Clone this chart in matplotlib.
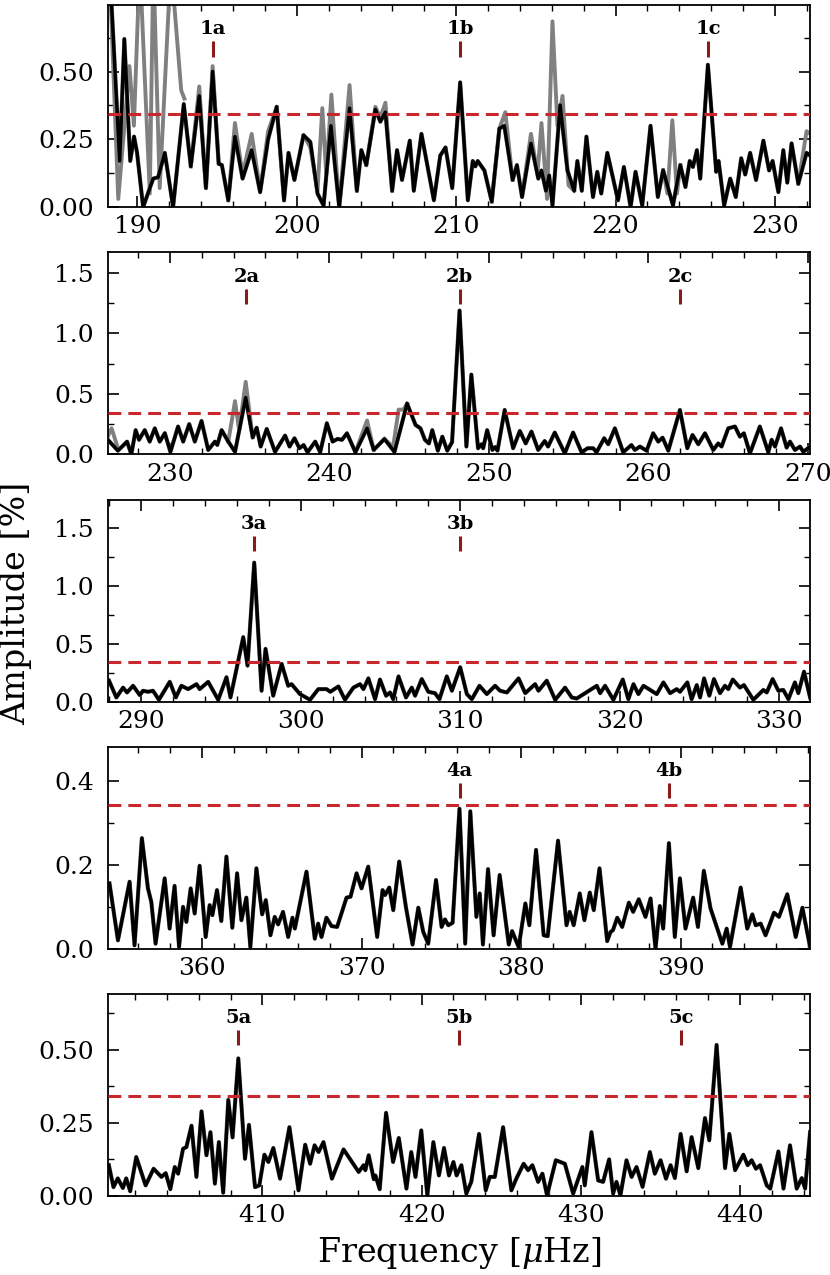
import numpy as np
import matplotlib
matplotlib.use('Agg')
import matplotlib.pyplot as plt
from matplotlib.ticker import MultipleLocator, FormatStrFormatter
import matplotlib.transforms as mtransforms

plt.rcParams['font.family'] = 'DejaVu Serif'
plt.rcParams['mathtext.fontset'] = 'dejavuserif'

# ---- panel 1 (black) ----
freq1 = [188.2, 188.89, 189.18, 189.55, 189.79, 189.98, 190.36, 190.99, 191.3, 191.72,
         192.24, 192.91, 193.35, 193.88, 194.3, 194.72, 195.1, 195.3, 195.7, 196.12,
         196.6, 197.17, 197.7, 198.2, 198.74, 199.2, 199.48, 199.85, 200.42, 200.85,
         201.3, 201.68, 202.14, 202.66, 203.31, 203.77, 204.05, 204.36, 204.93, 205.24,
         205.56, 205.98, 206.29, 206.6, 207.09, 207.34, 207.82, 208.6, 209.0, 209.33,
         209.75, 210.25, 210.73, 211.04, 211.2, 211.35, 211.77, 212.23, 212.71, 213.02,
         213.54, 213.81, 214.13, 214.69, 215.15, 215.35, 215.63, 215.83, 216.04, 216.52,
         216.98, 217.4, 217.6, 217.88, 218.17, 218.58, 218.85, 219.1, 219.48, 220.15,
         220.52, 220.94, 221.25, 221.67, 222.19, 222.65, 222.98, 223.6, 224.06, 224.38,
         224.65, 224.85, 225.1, 225.31, 225.79, 226.31, 226.46, 226.81, 227.19, 227.54,
         227.88, 228.13, 228.44, 228.81, 229.27, 229.63, 229.85, 230.21, 230.52, 230.77,
         231.04, 231.46, 231.98, 232.2]
amp1 = [0.95, 0.17, 0.62, 0.17, 0.26, 0.2, 0.0, 0.105, 0.11, 0.2,
        0.0, 0.38, 0.15, 0.41, 0.07, 0.5, 0.16, 0.155, 0.025, 0.26,
        0.105, 0.21, 0.055, 0.25, 0.37, 0.025, 0.2, 0.1, 0.265, 0.24,
        0.05, 0.006, 0.3, 0.0, 0.365, 0.06, 0.21, 0.155, 0.36, 0.315,
        0.35, 0.06, 0.21, 0.1, 0.245, 0.06, 0.27, 0.025, 0.19, 0.22,
        0.07, 0.46, 0.025, 0.17, 0.15, 0.17, 0.135, 0.02, 0.29, 0.3,
        0.1, 0.155, 0.037, 0.235, 0.105, 0.135, 0.06, 0.117, 0.006, 0.376,
        0.135, 0.06, 0.17, 0.06, 0.26, 0.037, 0.13, 0.05, 0.2, 0.025,
        0.148, 0.0, 0.13, 0.006, 0.3, 0.037, 0.136, 0.006, 0.155, 0.074,
        0.17, 0.148, 0.21, 0.105, 0.525, 0.13, 0.17, 0.006, 0.105, 0.037,
        0.18, 0.12, 0.2, 0.1, 0.245, 0.135, 0.17, 0.055, 0.21, 0.09,
        0.235, 0.086, 0.2, 0.19]

# panel 1 gray (where it departs from black)
gray1 = [
    ([188.2, 188.8, 189.5, 189.78, 190.15, 190.78, 191.0, 191.4, 192.1, 192.75, 192.95],
     [0.95, 0.03, 0.52, 0.3, 0.9, 0.05, 0.9, 0.07, 0.9, 0.43, 0.4]),
    ([193.35, 193.88, 194.3, 194.72, 195.1],
     [0.15, 0.445, 0.07, 0.52, 0.16]),
    ([195.7, 196.12, 196.6, 197.17, 197.7, 198.2, 198.74, 199.2],
     [0.025, 0.31, 0.12, 0.27, 0.06, 0.28, 0.37, 0.025]),
    ([200.42, 200.85, 201.3, 201.6, 201.85, 202.17, 202.66, 203.31, 203.77],
     [0.265, 0.22, 0.06, 0.365, 0.12, 0.415, 0.0, 0.45, 0.06]),
    ([204.36, 204.93, 205.24, 205.56, 205.98],
     [0.155, 0.37, 0.33, 0.385, 0.06]),
    ([212.23, 212.71, 213.08, 213.54],
     [0.02, 0.29, 0.35, 0.1]),
    ([214.13, 214.69, 215.1, 215.35, 215.7, 216.04, 216.35, 216.67, 217.05, 217.4],
     [0.04, 0.27, 0.12, 0.31, 0.03, 0.685, 0.3, 0.41, 0.08, 0.06]),
    ([222.98, 223.25, 223.56, 223.85, 224.06],
     [0.136, 0.05, 0.32, 0.05, 0.155]),
    ([231.46, 231.98, 232.2],
     [0.086, 0.28, 0.27]),
]

# ---- panel 2 ----
freq2 = [226.12, 226.75, 227.32, 227.59, 227.86, 228.07, 228.43, 228.74, 229.06, 229.37,
         229.69, 230.04, 230.52, 230.84, 231.22, 231.57, 231.99, 232.41, 232.83, 232.98,
         233.25, 233.67, 234.09, 234.76, 235.2, 235.45, 235.7, 236.08, 236.6, 237.23,
         237.51, 237.82, 238.13, 238.39, 238.64, 239.12, 239.43, 239.85, 240.21, 240.52,
         240.8, 241.11, 241.64, 242.37, 242.79, 243.46, 244.09, 244.88, 245.41, 245.72,
         246.0, 246.25, 246.46, 246.81, 247.09, 247.4, 247.7, 248.17, 248.6, 248.91,
         249.33, 249.54, 249.65, 249.9, 250.23, 250.4, 250.55, 251.0, 251.53, 251.95,
         252.32, 252.68, 253.1, 253.51, 253.72, 254.14, 254.77, 255.29, 255.82, 256.2,
         256.55, 256.76, 257.24, 257.49, 257.91, 258.43, 258.95, 259.16, 259.48, 259.9,
         260.31, 260.63, 260.9, 261.26, 261.99, 262.45, 262.78, 263.14, 263.56, 264.08,
         264.39, 264.6, 265.02, 265.44, 265.75, 266.0, 266.38, 267.0, 267.53, 267.74,
         267.95, 268.33, 268.68, 268.89, 269.2, 269.52, 269.73, 270.15]
amp2 = [0.12, 0.03, 0.105, 0.0, 0.2, 0.12, 0.2, 0.105, 0.215, 0.105,
        0.175, 0.02, 0.23, 0.105, 0.25, 0.105, 0.276, 0.036, 0.105, 0.077,
        0.2, 0.105, 0.02, 0.47, 0.14, 0.22, 0.064, 0.21, 0.02, 0.155,
        0.064, 0.133, 0.05, 0.077, 0.017, 0.105, 0.017, 0.257, 0.105, 0.127,
        0.12, 0.174, 0.017, 0.215, 0.036, 0.127, 0.02, 0.42, 0.243, 0.215,
        0.12, 0.09, 0.2, 0.03, 0.146, 0.03, 0.1, 1.19, 0.064, 0.66,
        0.05, 0.083, 0.05, 0.2, 0.036, 0.06, 0.03, 0.367, 0.05, 0.193,
        0.09, 0.188, 0.036, 0.11, 0.064, 0.18, 0.008, 0.18, 0.017, 0.05,
        0.05, 0.017, 0.133, 0.083, 0.215, 0.017, 0.077, 0.036, 0.064, 0.03,
        0.174, 0.105, 0.138, 0.03, 0.367, 0.05, 0.16, 0.083, 0.174, 0.036,
        0.09, 0.064, 0.215, 0.23, 0.146, 0.174, 0.008, 0.23, 0.017, 0.12,
        0.064, 0.215, 0.055, 0.105, 0.036, 0.064, 0.02, 0.064]

gray2 = [
    ([226.12, 226.35, 226.75], [0.15, 0.215, 0.05]),
    ([233.67, 234.09, 234.35, 234.76, 235.2], [0.105, 0.44, 0.2, 0.6, 0.14]),
    ([241.64, 242.37, 242.79], [0.017, 0.28, 0.036]),
    ([243.46, 244.0, 244.35, 244.65, 244.88], [0.127, 0.06, 0.37, 0.37, 0.42]),
]

# ---- panel 3 ----
freq3 = [287.97, 288.43, 288.85, 289.1, 289.48, 289.9, 290.1, 290.42, 290.73, 291.1,
         291.78, 292.16, 292.51, 292.93, 293.46, 293.66, 294.19, 294.82, 295.34, 295.59,
         295.86, 296.39, 296.66, 297.08, 297.54, 297.79, 298.27, 298.8, 299.21, 299.42,
         299.95, 300.58, 301.1, 301.62, 301.85, 302.36, 302.77, 303.3, 303.72, 303.93,
         304.24, 304.66, 304.97, 305.35, 305.6, 305.8, 306.13, 306.6, 306.96, 307.17,
         307.59, 308.0, 308.42, 308.7, 309.16, 309.48, 310.0, 310.42, 310.73, 311.21,
         311.67, 312.19, 312.5, 312.93, 313.66, 314.08, 314.7, 314.91, 315.43, 315.96,
         316.58, 317.0, 317.31, 318.57, 318.78, 319.09, 319.61, 320.2, 320.55, 320.87,
         321.18, 321.5, 321.92, 322.33, 322.75, 323.17, 323.58, 323.79, 324.25, 324.52,
         324.84, 325.05, 325.3, 325.63, 325.92, 326.3, 326.61, 326.82, 327.1, 327.55,
         327.8, 328.39, 329.02, 329.23, 329.6, 329.96, 330.27, 330.59, 331.0, 331.21,
         331.57, 331.95]
amp3 = [0.18, 0.035, 0.12, 0.078, 0.136, 0.055, 0.093, 0.084, 0.093, 0.015,
        0.17, 0.035, 0.136, 0.107, 0.15, 0.107, 0.17, 0.015, 0.21, 0.035,
        0.21, 0.556, 0.31, 1.2, 0.093, 0.455, 0.05, 0.325, 0.136, 0.15,
        0.064, 0.015, 0.107, 0.107, 0.084, 0.13, 0.015, 0.12, 0.15, 0.107,
        0.2, 0.02, 0.19, 0.05, 0.078, 0.02, 0.217, 0.035, 0.12, 0.05,
        0.194, 0.084, 0.072, 0.02, 0.217, 0.093, 0.296, 0.064, 0.02, 0.136,
        0.064, 0.136, 0.093, 0.078, 0.2, 0.072, 0.15, 0.093, 0.18, 0.015,
        0.12, 0.035, 0.026, 0.136, 0.072, 0.136, 0.015, 0.19, 0.02, 0.15,
        0.064, 0.136, 0.1, 0.064, 0.165, 0.072, 0.107, 0.084, 0.165, 0.02,
        0.142, 0.035, 0.2, 0.05, 0.194, 0.072, 0.136, 0.107, 0.19, 0.12,
        0.142, 0.015, 0.1, 0.078, 0.194, 0.093, 0.1, 0.02, 0.165, 0.072,
        0.258, 0.035]

# ---- panel 4 ----
freq4 = [354.2, 354.73, 355.46, 355.77, 356.23, 356.61, 356.82, 357.09, 357.66, 357.97,
         358.28, 358.56, 358.81, 359.02, 359.29, 359.54, 359.85, 360.23, 360.48, 360.65,
         360.94, 361.21, 361.53, 361.9, 362.2, 362.47, 362.78, 363.03, 363.41, 363.77,
         364.0, 364.29, 364.56, 364.77, 365.08, 365.4, 365.67, 365.82, 366.55, 367.07,
         367.28, 367.49, 367.8, 368.12, 368.47, 369.06, 369.31, 369.69, 370.0, 370.42,
         370.98, 371.32, 371.47, 371.74, 371.99, 372.36, 372.78, 373.2, 373.56, 373.87,
         374.18, 374.67, 375.02, 375.23, 375.44, 375.71, 376.14, 376.5, 376.82, 377.2,
         377.41, 377.61, 377.93, 378.28, 378.66, 379.23, 379.44, 379.85, 380.27, 380.52,
         380.94, 381.42, 381.67, 382.32, 382.85, 383.05, 383.3, 383.68, 383.97, 384.31,
         384.56, 384.92, 385.4, 385.61, 385.76, 386.03, 386.34, 386.76, 387.03, 387.38,
         387.8, 388.12, 388.43, 388.7, 388.91, 389.27, 389.64, 389.96, 390.31, 390.79,
         391.09, 391.46, 391.88, 392.62, 392.89, 393.1, 393.77, 394.18, 394.5, 394.71,
         395.02, 395.33, 395.86, 396.17, 396.69, 397.22, 397.64, 398.12]
amp4 = [0.156, 0.02, 0.16, 0.008, 0.264, 0.144, 0.112, 0.012, 0.168, 0.048,
        0.15, 0.004, 0.1, 0.064, 0.144, 0.084, 0.198, 0.028, 0.104, 0.08,
        0.14, 0.066, 0.22, 0.05, 0.18, 0.068, 0.122, 0.004, 0.192, 0.082,
        0.116, 0.032, 0.076, 0.058, 0.088, 0.028, 0.074, 0.048, 0.184, 0.024,
        0.06, 0.028, 0.074, 0.054, 0.052, 0.122, 0.124, 0.18, 0.144, 0.196,
        0.028, 0.14, 0.128, 0.146, 0.092, 0.208, 0.1, 0.01, 0.098, 0.04,
        0.012, 0.164, 0.052, 0.07, 0.056, 0.062, 0.334, 0.012, 0.328, 0.076,
        0.132, 0.01, 0.19, 0.032, 0.176, 0.01, 0.042, 0.004, 0.108, 0.056,
        0.236, 0.032, 0.03, 0.258, 0.056, 0.088, 0.056, 0.132, 0.068, 0.134,
        0.092, 0.192, 0.018, 0.04, 0.044, 0.074, 0.052, 0.11, 0.088, 0.118,
        0.076, 0.12, 0.0, 0.102, 0.048, 0.252, 0.028, 0.168, 0.048, 0.122,
        0.052, 0.186, 0.096, 0.012, 0.048, 0.004, 0.146, 0.048, 0.082, 0.056,
        0.06, 0.032, 0.086, 0.076, 0.13, 0.028, 0.098, 0.004]

# ---- panel 5 ----
freq5 = [400.36, 400.65, 400.92, 401.24, 401.45, 401.7, 402.08, 402.67, 403.17, 403.66,
         403.93, 404.22, 404.5, 404.71, 405.02, 405.23, 405.55, 405.86, 406.18, 406.49,
         406.74, 407.02, 407.27, 407.54, 407.86, 408.13, 408.49, 408.91, 409.16, 409.54,
         409.81, 410.13, 410.38, 410.69, 411.11, 411.7, 412.27, 412.69, 413.0, 413.28,
         413.53, 413.84, 414.37, 415.1, 416.05, 416.36, 416.47, 416.68, 417.0, 417.1,
         417.37, 417.77, 418.21, 418.57, 419.05, 419.35, 419.62, 419.98, 420.36, 420.74,
         421.09, 421.41, 421.72, 422.0, 422.2, 422.5, 422.81, 423.12, 423.61, 424.03,
         424.28, 424.6, 425.12, 425.64, 425.95, 426.41, 426.69, 426.96, 427.32, 427.59,
         427.88, 428.43, 429.0, 429.52, 430.1, 430.25, 430.67, 431.09, 431.4, 431.78,
         432.03, 432.24, 432.49, 432.87, 433.19, 433.5, 433.88, 434.34, 434.65, 435.01,
         435.35, 435.64, 435.91, 436.27, 436.65, 436.96, 437.38, 437.8, 438.07, 438.53,
         439.06, 439.33, 439.69, 440.21, 440.48, 440.73, 441.0, 441.26, 441.68, 441.9,
         442.41, 442.73, 443.14, 443.56, 443.88, 444.09, 444.4]
amp5 = [0.105, 0.03, 0.06, 0.027, 0.06, 0.016, 0.133, 0.036, 0.093, 0.065,
        0.078, 0.023, 0.099, 0.076, 0.161, 0.167, 0.24, 0.065, 0.289, 0.139,
        0.218, 0.042, 0.184, 0.011, 0.328, 0.2, 0.47, 0.127, 0.243, 0.03,
        0.036, 0.141, 0.116, 0.164, 0.059, 0.235, 0.019, 0.175, 0.11, 0.173,
        0.15, 0.184, 0.059, 0.159, 0.082, 0.105, 0.088, 0.139, 0.057, 0.07,
        0.023, 0.284, 0.116, 0.198, 0.025, 0.15, 0.065, 0.224, 0.002, 0.184,
        0.07, 0.164, 0.07, 0.116, 0.07, 0.105, 0.008, 0.048, 0.212, 0.019,
        0.065, 0.065, 0.235, 0.019, 0.059, 0.11, 0.088, 0.105, 0.048, 0.076,
        0.002, 0.122, 0.11, 0.008, 0.099, 0.036, 0.218, 0.053, 0.048, 0.125,
        0.008, 0.048, 0.002, 0.122, 0.065, 0.099, 0.031, 0.15, 0.076, 0.122,
        0.059, 0.105, 0.061, 0.212, 0.084, 0.201, 0.095, 0.266, 0.19, 0.516,
        0.095, 0.212, 0.088, 0.141, 0.105, 0.122, 0.093, 0.105, 0.036, 0.025,
        0.152, 0.025, 0.173, 0.025, 0.061, 0.025, 0.218]

# mode labels
labels = [
    (['1a', '1b', '1c'], [194.72, 210.25, 225.79]),
    (['2a', '2b', '2c'], [234.8, 248.17, 261.99]),
    (['3a', '3b'], [297.08, 310.0]),
    (['4a', '4b'], [376.15, 389.27]),
    (['5a', '5b', '5c'], [408.49, 422.35, 436.27]),
]

xlims = [(188.15, 232.2), (226.12, 270.15), (287.9, 331.95), (354.1, 398.12), (400.3, 444.4)]
ylims = [0.745, 1.672, 1.745, 0.482, 0.69]
ymajor = [0.25, 0.5, 0.5, 0.2, 0.25]
yfmt = ['%.2f', '%.1f', '%.1f', '%.1f', '%.2f']
threshold = 0.343

freqs = [freq1, freq2, freq3, freq4, freq5]
amps = [amp1, amp2, amp3, amp4, amp5]
grays = [gray1, gray2, [], [], []]

fig, axes = plt.subplots(5, 1, figsize=(8.3, 12.75), dpi=100)
fig.subplots_adjust(left=0.130, right=0.976, top=0.996, bottom=0.062, hspace=0.224)

for i, ax in enumerate(axes):
    f = np.array(freqs[i])
    a = np.array(amps[i])
    ax.plot(f, a, color='#808080', lw=3.0, solid_joinstyle='round', zorder=2)
    for gf, ga in grays[i]:
        ax.plot(gf, ga, color='#808080', lw=2.8, solid_joinstyle='round', zorder=2)
    ax.plot(f, a, color='black', lw=2.5, solid_joinstyle='round', zorder=3)
    ax.axhline(threshold, color='#c8282d', lw=2.2, ls=(0, (4.2, 2.3)), zorder=4)

    trans = mtransforms.blended_transform_factory(ax.transData, ax.transAxes)
    for name, pos in zip(*labels[i]):
        ax.plot([pos, pos], [0.745, 0.82], color='#8b1a1a', lw=2.2, transform=trans,
                solid_capstyle='butt', zorder=5)
        ax.text(pos, 0.835, name, transform=trans, ha='center', va='bottom',
                fontsize=14, fontweight='bold', zorder=5)

    ax.set_xlim(*xlims[i])
    ax.set_ylim(0, ylims[i])
    ax.xaxis.set_major_locator(MultipleLocator(10))
    ax.xaxis.set_minor_locator(MultipleLocator(2))
    ax.yaxis.set_major_locator(MultipleLocator(ymajor[i]))
    ax.yaxis.set_minor_locator(MultipleLocator(ymajor[i] / 2))
    ax.yaxis.set_major_formatter(FormatStrFormatter(yfmt[i]))
    ax.tick_params(which='both', direction='in', top=True, right=True)
    ax.tick_params(which='major', length=8, width=1.2, labelsize=18)
    ax.tick_params(which='minor', length=4.5, width=1.0)
    ax.tick_params(axis='y', which='major', pad=10)
    ax.tick_params(axis='x', which='major', pad=6)
    for sp in ax.spines.values():
        sp.set_linewidth(1.3)

fig.text(0.02, 0.527, 'Amplitude [%]', rotation=90, ha='center', va='center', fontsize=24)
fig.text(0.553, 0.0173, 'Frequency [$\\mu$Hz]', ha='center', va='center', fontsize=24)

fig.savefig('out.png', dpi=100)
